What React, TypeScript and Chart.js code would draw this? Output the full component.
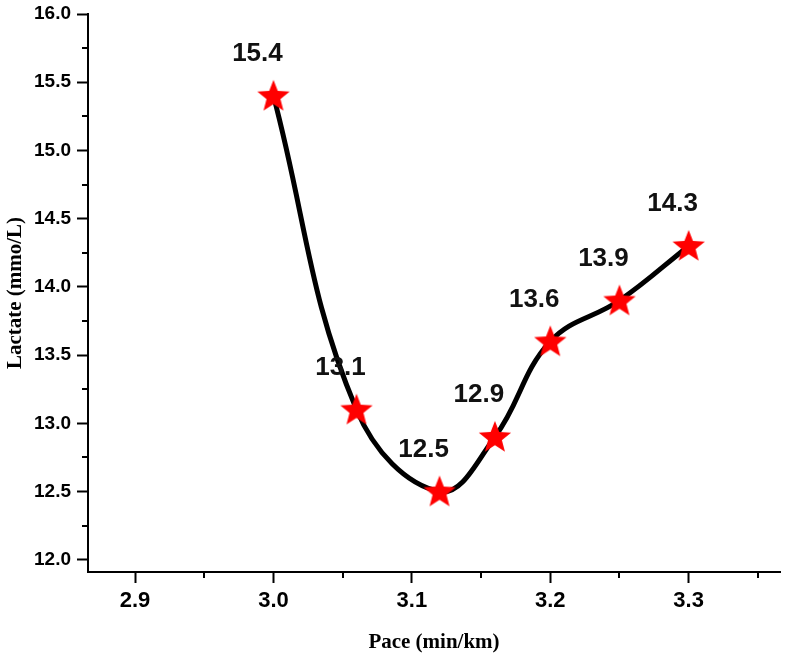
import React, { useEffect, useRef } from "react";
import { Chart, registerables } from "chart.js";

Chart.register(...registerables);

const paceValues = [3.0, 3.06, 3.12, 3.16, 3.2, 3.25, 3.3];
const lactateValues = [15.4, 13.1, 12.5, 12.9, 13.6, 13.9, 14.3];
const pointLabels = ["15.4", "13.1", "12.5", "12.9", "13.6", "13.9", "14.3"];
const xTickValues = [2.9, 3.0, 3.1, 3.2, 3.3];
const xMinorTicks = [2.95, 3.05, 3.15, 3.25, 3.35];
const yTickValues = [12.0, 12.5, 13.0, 13.5, 14.0, 14.5, 15.0, 15.5, 16.0];
const yMinorTicks = [12.25, 12.75, 13.25, 13.75, 14.25, 14.75, 15.25, 15.75];

function makeStar(): HTMLCanvasElement {
  const size = 38;
  const c = document.createElement("canvas");
  c.width = size;
  c.height = size;
  const ctx = c.getContext("2d")!;
  const cx = size / 2;
  const cy = size / 2 + 1;
  const outer = 17;
  const inner = 7.3;
  ctx.beginPath();
  for (let i = 0; i < 10; i++) {
    const r = i % 2 === 0 ? outer : inner;
    const a = -Math.PI / 2 + (i * Math.PI) / 5;
    const px = cx + r * Math.cos(a);
    const py = cy + r * Math.sin(a);
    if (i === 0) ctx.moveTo(px, py);
    else ctx.lineTo(px, py);
  }
  ctx.closePath();
  ctx.fillStyle = "#ff0000";
  ctx.fill();
  return c;
}

const minorTickPlugin = {
  id: "minorTicks",
  afterDraw(chart: any) {
    const ctx = chart.ctx;
    const xs = chart.scales.x;
    const ys = chart.scales.y;
    ctx.save();
    ctx.strokeStyle = "#000";
    ctx.lineWidth = 2;
    ctx.beginPath();
    for (const v of xMinorTicks) {
      const px = Math.round(xs.getPixelForValue(v));
      ctx.moveTo(px, xs.top);
      ctx.lineTo(px, xs.top + 6);
    }
    for (const v of yMinorTicks) {
      const py = Math.round(ys.getPixelForValue(v));
      ctx.moveTo(ys.right, py);
      ctx.lineTo(ys.right - 6, py);
    }
    ctx.stroke();
    ctx.restore();
  },
};

const valueLabelPlugin = {
  id: "valueLabels",
  afterDatasetsDraw(chart: any) {
    const ctx = chart.ctx;
    const meta = chart.getDatasetMeta(0);
    ctx.save();
    ctx.font = "bold 26px 'Liberation Sans', Arial, sans-serif";
    ctx.fillStyle = "#111";
    ctx.textAlign = "center";
    ctx.textBaseline = "middle";
    meta.data.forEach((pt: any, i: number) => {
      ctx.fillText(pointLabels[i], pt.x - 16, pt.y - 42);
    });
    ctx.restore();
  },
};

export default function App() {
  const ref = useRef<HTMLCanvasElement | null>(null);

  useEffect(() => {
    if (!ref.current) return;
    const star = makeStar();
    const chart = new Chart(ref.current, {
      type: "scatter",
      data: {
        datasets: [
          {
            data: paceValues.map((x, i) => ({ x, y: lactateValues[i] })),
            showLine: true,
            borderColor: "#000",
            borderWidth: 5,
            tension: 0.4,
            pointStyle: star as any,
            pointRadius: 1,
            pointBorderWidth: 0,
            pointHoverRadius: 1,
            pointBackgroundColor: "#ff0000",
            pointBorderColor: "#ff0000",
            clip: false as any,
          },
        ],
      },
      options: {
        responsive: false,
        animation: false,
        layout: { padding: { left: 0, top: 14, right: 6, bottom: 0 } },
        plugins: {
          legend: { display: false },
          tooltip: { enabled: false },
        },
        scales: {
          x: {
            type: "linear",
            min: 2.866,
            max: 3.366,
            afterBuildTicks: (s: any) => {
              s.ticks = xTickValues.map((v) => ({ value: v }));
            },
            afterFit: (s: any) => {
              s.height = 86;
              s.paddingLeft = 0;
              s.paddingRight = 0;
            },
            border: { display: true, color: "#000", width: 2 },
            grid: {
              drawOnChartArea: false,
              drawTicks: true,
              tickLength: 11,
              tickColor: "#000",
              tickWidth: 2,
            },
            ticks: {
              padding: 5,
              color: "#000",
              font: { family: "'Liberation Sans', Arial, sans-serif", size: 22, weight: "bold" },
              callback: (v: any) => Number(v).toFixed(1),
            },
            title: {
              display: true,
              text: "Pace (min/km)",
              color: "#000",
              padding: { top: 0, bottom: 3 },
              font: { family: "'Liberation Serif', 'Times New Roman', serif", size: 21, weight: "bold" },
            },
          },
          y: {
            type: "linear",
            min: 11.91,
            max: 16.0,
            afterBuildTicks: (s: any) => {
              s.ticks = yTickValues.map((v) => ({ value: v }));
            },
            afterFit: (s: any) => {
              s.width = 88;
              s.paddingTop = 0;
              s.paddingBottom = 0;
            },
            border: { display: true, color: "#000", width: 2 },
            grid: {
              drawOnChartArea: false,
              drawTicks: true,
              tickLength: 11,
              tickColor: "#000",
              tickWidth: 2,
            },
            ticks: {
              padding: 6,
              color: "#000",
              font: { family: "'Liberation Sans', Arial, sans-serif", size: 19, weight: "bold" },
              callback: (v: any) => Number(v).toFixed(1),
            },
            title: {
              display: true,
              text: "Lactate (mmo/L)",
              color: "#000",
              padding: { top: 3, bottom: 0 },
              font: { family: "'Liberation Serif', 'Times New Roman', serif", size: 21, weight: "bold" },
            },
          },
        },
      },
      plugins: [minorTickPlugin, valueLabelPlugin],
    });
    return () => chart.destroy();
  }, []);

  return (
    <div style={{ position: "absolute", left: 0, top: 0, width: 786, height: 658, background: "#fff" }}>
      <canvas ref={ref} width={786} height={658} style={{ display: "block" }} />
    </div>
  );
}
